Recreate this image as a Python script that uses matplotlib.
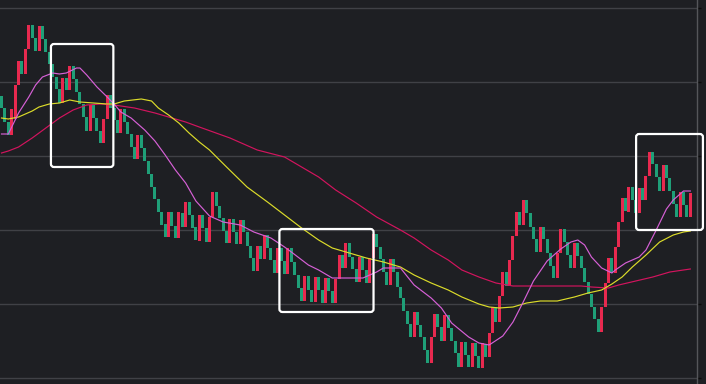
import numpy as np
import matplotlib
matplotlib.use("Agg")
import matplotlib.pyplot as plt
from matplotlib.patches import FancyBboxPatch
from matplotlib.transforms import IdentityTransform

# ---------------- data ----------------
opens = [
    30.4, 29.2, 27.8, 26.5, 28.1, 31.5, 33.9, 32.6, 35.1, 37.5,
    36.2, 34.9, 37.4, 36.1, 34.8, 33.6, 32.3, 31.1, 29.7, 32.2,
    31.0, 33.4, 32.1, 30.8, 29.6, 28.3, 26.9, 29.5, 28.2, 26.9,
    25.7, 28.1, 30.5, 29.2, 28.0, 26.7, 29.1, 27.8, 26.6, 25.3,
    24.1, 26.5, 25.2, 23.9, 22.6, 21.3, 20.1, 18.8, 17.6, 16.3,
    18.8, 17.4, 16.2, 18.7, 17.3, 19.8, 18.5, 17.3, 15.9, 18.5,
    17.2, 15.8, 18.3, 20.8, 19.4, 18.2, 16.9, 15.7, 18.1, 16.8,
    15.6, 18.0, 16.8, 15.4, 14.2, 12.9, 15.4, 14.1, 16.5, 15.2,
    14.0, 12.7, 15.2, 13.9, 12.6, 15.2, 13.8, 12.5, 11.2, 9.9,
    12.4, 11.0, 9.8, 12.3, 11.0, 9.7, 12.2, 10.9, 9.7, 12.1,
    14.5, 13.2, 15.7, 14.3, 13.1, 11.8, 14.3, 13.0, 11.7, 14.2,
    16.6, 15.3, 14.1, 12.8, 11.5, 14.1, 12.8, 11.3, 10.2, 8.9,
    7.6, 6.3, 8.8, 7.5, 6.3, 5.0, 3.7, 6.3, 8.6, 7.3,
    5.9, 8.5, 7.2, 5.9, 4.7, 3.3, 5.8, 4.5, 3.3, 5.7,
    4.4, 3.2, 5.6, 4.3, 6.7, 9.3, 7.8, 10.4, 12.8, 11.4,
    14.0, 16.4, 18.8, 17.5, 20.0, 18.7, 17.3, 16.1, 14.8, 17.3,
    16.1, 14.7, 13.4, 12.2, 14.7, 17.1, 15.8, 14.5, 13.2, 15.7,
    14.4, 13.2, 11.8, 10.6, 9.3, 8.1, 6.8, 9.3, 11.7, 14.2,
    12.7, 15.3, 17.8, 20.2, 18.8, 21.3, 20.0, 18.7, 21.2, 20.0,
    22.4, 24.8, 23.6, 22.3, 20.9, 23.5, 22.2, 20.9, 19.6, 18.3,
    20.8, 19.5, 18.3,
]
closes = [
    29.2, 27.8, 26.5, 29.1, 31.5, 33.9, 32.6, 35.1, 37.5, 36.2,
    34.9, 37.4, 36.1, 34.8, 33.6, 32.3, 31.1, 29.7, 32.2, 31.0,
    33.4, 32.1, 30.8, 29.6, 28.3, 26.9, 29.5, 28.2, 26.9, 25.7,
    28.1, 30.5, 29.2, 28.0, 26.7, 29.1, 27.8, 26.6, 25.3, 24.1,
    26.5, 25.2, 23.9, 22.6, 21.3, 20.1, 18.8, 17.5, 16.3, 18.8,
    17.4, 16.2, 18.8, 17.3, 19.8, 18.5, 17.2, 16.0, 18.5, 17.2,
    15.8, 18.3, 20.8, 19.4, 18.2, 16.9, 15.7, 18.1, 16.8, 15.6,
    18.0, 16.8, 15.4, 14.2, 12.9, 15.4, 14.1, 16.5, 15.2, 14.0,
    12.7, 15.2, 13.9, 12.6, 15.2, 13.8, 12.5, 11.2, 9.9, 12.4,
    11.0, 9.8, 12.3, 11.0, 9.7, 12.2, 10.9, 9.7, 12.1, 14.5,
    13.2, 15.7, 14.3, 13.1, 11.8, 14.3, 13.0, 11.7, 14.2, 16.6,
    15.3, 14.1, 12.8, 11.5, 14.1, 12.8, 11.3, 10.2, 8.9, 7.6,
    6.3, 8.8, 7.5, 6.3, 5.0, 3.7, 6.3, 8.6, 7.3, 5.9,
    8.5, 7.2, 5.9, 4.7, 3.3, 5.8, 4.5, 3.3, 5.7, 4.4,
    3.2, 5.7, 4.3, 6.7, 9.3, 7.8, 10.4, 12.8, 11.4, 14.0,
    16.4, 18.8, 17.5, 20.0, 18.7, 17.3, 16.1, 14.8, 17.3, 16.1,
    14.7, 13.4, 12.2, 14.7, 17.1, 15.8, 14.5, 13.2, 15.7, 14.4,
    13.2, 11.8, 10.6, 9.3, 8.1, 6.8, 9.3, 11.7, 14.2, 12.7,
    15.3, 17.8, 20.2, 18.9, 21.3, 20.0, 18.7, 21.2, 20.0, 22.4,
    24.8, 23.6, 22.3, 20.9, 23.5, 22.2, 20.9, 19.6, 18.3, 20.8,
    19.5, 18.3, 20.7,
]

# short moving average (magenta)
ma_short_idx = [0, 2, 3, 5, 8, 10, 12, 15, 17, 19, 22, 23, 25, 28, 31, 33, 35, 38,
                42, 45, 48, 51, 54, 57, 61, 65, 70, 74, 79, 83, 85, 90, 93, 97, 102,
                106, 110, 112, 117, 121, 126, 129, 132, 137, 140, 143, 147, 150, 153,
                156, 160, 164, 167, 169, 171, 173, 176, 179, 180, 183, 187, 189, 192,
                195, 197, 199, 200, 202]
ma_short = [26.6, 26.6, 27.3, 28.7, 30.3, 31.5, 32.3, 32.7, 32.6, 32.7, 33.2, 33.2,
            32.5, 31.3, 30.3, 29.6, 28.8, 28.2, 27.0, 25.9, 24.5, 23.0, 21.7, 19.9,
            18.4, 17.8, 17.5, 16.8, 16.2, 15.3, 14.8, 13.5, 13.0, 12.2, 12.2, 12.2,
            12.8, 13.2, 13.2, 11.5, 10.2, 9.2, 7.7, 6.3, 5.7, 5.5, 6.4, 7.8, 9.8,
            11.9, 13.9, 15.1, 15.8, 16.0, 15.5, 14.3, 13.2, 12.7, 13.0, 13.7, 14.3,
            15.0, 17.0, 19.1, 20.0, 20.6, 20.9, 20.9]

# medium moving average (yellow)
ma_mid_idx = [0, 2, 5, 9, 11, 14, 17, 20, 23, 27, 31, 33, 36, 41, 44, 46, 49, 52, 55,
              58, 61, 66, 72, 78, 83, 88, 93, 97, 102, 107, 112, 117, 121, 126, 131,
              135, 140, 143, 146, 150, 154, 158, 163, 168, 172, 176, 179, 182, 185,
              189, 193, 197, 200, 202]
ma_mid = [28.2, 28.1, 28.3, 28.9, 29.3, 29.6, 29.7, 30.0, 29.8, 29.7, 29.6, 29.6,
          29.9, 30.1, 29.9, 29.2, 28.5, 27.7, 26.7, 25.8, 25.0, 23.3, 21.3, 19.8,
          18.5, 17.2, 16.0, 15.2, 14.7, 14.2, 13.8, 13.3, 12.5, 11.7, 11.0, 10.3,
          9.6, 9.3, 9.2, 9.3, 9.7, 9.9, 9.9, 10.3, 10.7, 11.0, 11.6, 12.3, 13.3,
          14.5, 15.8, 16.5, 16.8, 16.9]

# long moving average (crimson)
ma_long_idx = [0, 2, 5, 9, 13, 17, 21, 25, 29, 33, 39, 45, 50, 54, 58, 67, 75, 83, 88,
               93, 98, 104, 110, 117, 121, 126, 131, 135, 140, 145, 150, 155, 162, 170,
               173, 178, 181, 186, 191, 196, 202]
ma_long = [24.7, 24.9, 25.3, 26.2, 27.2, 28.2, 29.0, 29.5, 29.6, 29.5, 29.2, 28.7,
           28.2, 27.8, 27.3, 26.2, 25.0, 24.3, 23.3, 22.3, 21.0, 19.7, 18.3, 17.0,
           16.2, 15.0, 14.0, 13.0, 12.3, 11.7, 11.4, 11.4, 11.4, 11.4, 11.3, 11.2,
           11.5, 11.9, 12.3, 12.8, 13.1]

# highlighted regions: (first candle, last candle, low, high)
highlight_boxes = [(14.5, 32.8, 23.3, 35.6), (81.5, 109.1, 8.8, 17.1), (186.1, 205.7, 17.0, 26.6)]

# ---------------- style ----------------
BG = "#1e1f23"
GRID = "#404146"
UP = "#e8294f"
DOWN = "#1f9f78"
C_SHORT = "#d660d6"
C_MID = "#dcdc2a"
C_LONG = "#d3145e"

W, H = 706, 384
fig = plt.figure(figsize=(W / 100, H / 100), dpi=100, facecolor=BG)
ax = fig.add_axes([0, 0, 697 / W, 1])
ax.set_facecolor(BG)

o = np.array(opens)
c = np.array(closes)
idx = np.arange(len(o))
cols = np.where(c >= o, UP, DOWN)
ax.bar(idx, c - o, bottom=o, width=0.88, color=cols, linewidth=0,
       antialiased=False, zorder=2)

ax.plot(ma_long_idx, ma_long, color=C_LONG, lw=0.85, zorder=3)
ax.plot(ma_mid_idx, ma_mid, color=C_MID, lw=0.85, zorder=3)
ax.plot(ma_short_idx, ma_short, color=C_SHORT, lw=0.85, zorder=4)

ax.set_xlim(-0.44, 203.96)
ax.set_ylim(1.6, 40.0)

yt = np.arange(2.2, 40, 7.4)
ax.set_yticks(yt)
ax.set_xticks([])
ax.grid(axis="y", color=GRID, lw=1.0, zorder=0)
ax.yaxis.tick_right()
ax.tick_params(axis="y", length=3, width=1, color="#0c0c0c", labelright=False, labelleft=False)
for s in ["top", "left", "bottom"]:
    ax.spines[s].set_visible(False)
ax.spines["right"].set_color("#55565a")
ax.spines["right"].set_linewidth(1.0)

# highlight boxes drawn in pixel space for even rounded corners
for x0, x1, y0, y1 in highlight_boxes:
    (px0, py0) = ax.transData.transform((x0, y0))
    (px1, py1) = ax.transData.transform((x1, y1))
    p = FancyBboxPatch((px0, py0), px1 - px0, py1 - py0,
                       boxstyle="round,pad=0,rounding_size=3",
                       transform=IdentityTransform(), fill=False,
                       edgecolor="white", linewidth=1.6, clip_on=False, zorder=10)
    fig.add_artist(p)

fig.savefig("out.png", dpi=100, facecolor=BG)
